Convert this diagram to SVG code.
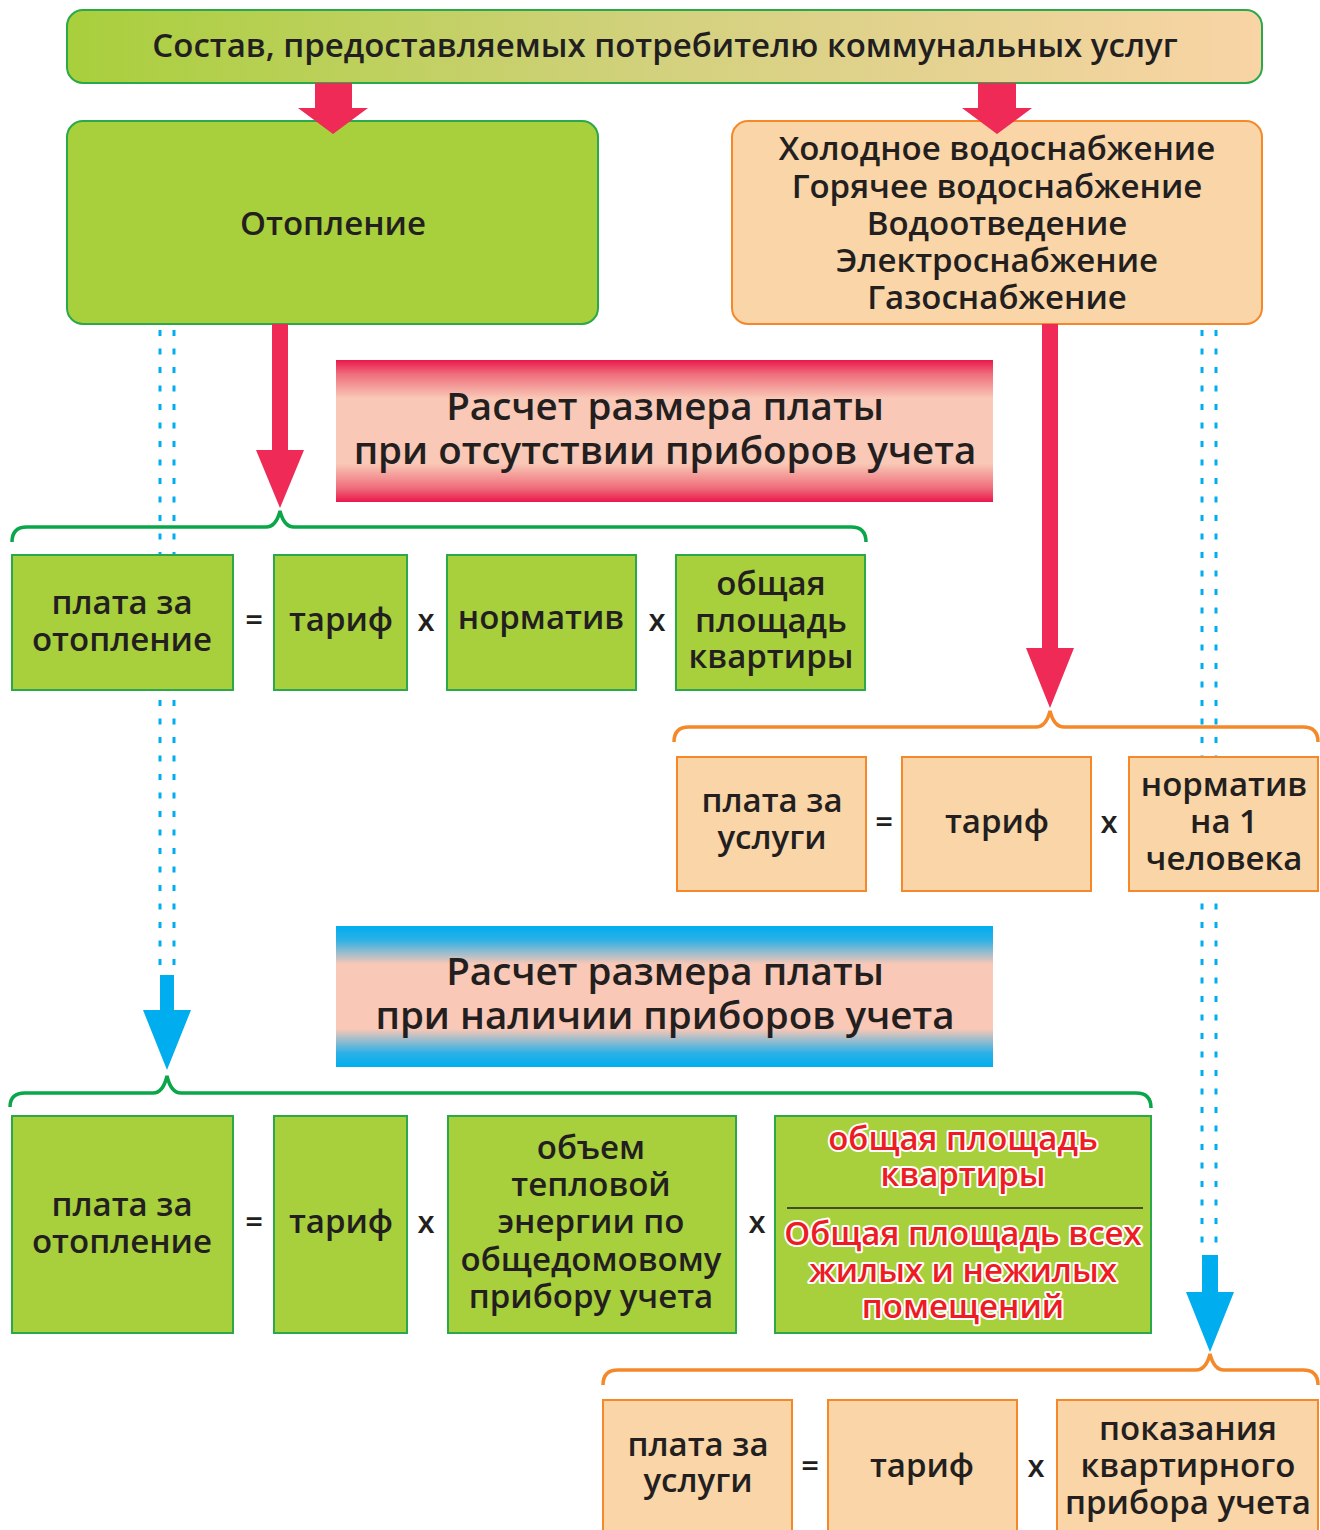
<svg xmlns="http://www.w3.org/2000/svg" width="1320" height="1530" viewBox="0 0 1320 1530">
<defs>
<linearGradient id="gTop" x1="0" y1="0" x2="1" y2="0">
<stop offset="0" stop-color="#a8cf3c"/><stop offset="0.5" stop-color="#d3d17e"/><stop offset="1" stop-color="#f9d4a6"/>
</linearGradient>
<linearGradient id="gRed" x1="0" y1="0" x2="0" y2="1">
<stop offset="0" stop-color="#e9174b"/><stop offset="0.1" stop-color="#ef6e7c"/><stop offset="0.27" stop-color="#f9c8b6"/><stop offset="0.73" stop-color="#f9c8b6"/><stop offset="0.9" stop-color="#ef6e7c"/><stop offset="1" stop-color="#e9174b"/>
</linearGradient>
<linearGradient id="gBlue" x1="0" y1="0" x2="0" y2="1">
<stop offset="0" stop-color="#00aeef"/><stop offset="0.1" stop-color="#2db0e6"/><stop offset="0.27" stop-color="#f9c8b6"/><stop offset="0.73" stop-color="#f9c8b6"/><stop offset="0.9" stop-color="#2db0e6"/><stop offset="1" stop-color="#00aeef"/>
</linearGradient>
</defs>
<style>
text{font-family:"Open Sans","Noto Sans","DejaVu Sans",sans-serif;fill:#231f20;text-anchor:middle;font-weight:600}
.t{font-size:33px}
.b{font-size:38.5px}
.op{font-size:31px}
.green{fill:#a8cf3c;stroke:#2aa84a;stroke-width:2}
.orange{fill:#f9d5a7;stroke:#f5892a;stroke-width:2}
.red{fill:#ef2a56}
.blue{fill:#00aeef}
.dots{stroke:#00aeef;stroke-width:3;stroke-dasharray:6 12.5;fill:none}
.braceG{fill:none;stroke:#0aa64a;stroke-width:3.5}
.braceO{fill:none;stroke:#f5892a;stroke-width:3.5}
.rt{fill:#ed1c24;stroke:#fff;stroke-width:4;paint-order:stroke;stroke-linejoin:round;font-size:33px}
</style>
<rect width="1320" height="1530" fill="#fff"/>
<g id="connectors-dotted">
<path class="dots" d="M160,330V975M174,330V975"/>
<path class="dots" d="M1202,330V1255M1216,330V1255"/>
</g>
<g id="top">
<rect x="67" y="10" width="1195" height="73" rx="16" fill="url(#gTop)" stroke="#2aa84a" stroke-width="2"/>
<text class="t" x="665" y="57">Состав, предоставляемых потребителю коммунальных услуг</text>
</g>
<g id="heating">
<rect class="green" x="67" y="121" width="531" height="203" rx="16"/>
<text class="t" x="333" y="235">Отопление</text>
</g>
<g id="services">
<rect class="orange" x="732" y="121" width="530" height="203" rx="16"/>
<text class="t" x="997" y="160">Холодное водоснабжение</text>
<text class="t" x="997" y="198">Горячее водоснабжение</text>
<text class="t" x="997" y="235">Водоотведение</text>
<text class="t" x="997" y="272">Электроснабжение</text>
<text class="t" x="997" y="309">Газоснабжение</text>
</g>
<g id="banner1">
<rect x="336" y="360" width="657" height="142" fill="url(#gRed)"/>
<text class="b" x="665" y="420">Расчет размера платы</text>
<text class="b" x="665" y="464">при отсутствии приборов учета</text>
</g>
<g id="row1">
<rect class="green" x="12" y="555" width="221" height="135"/>
<text class="t" x="122" y="614">плата за</text>
<text class="t" x="122" y="651">отопление</text>
<text class="op" x="254" y="631">=</text>
<rect class="green" x="274" y="555" width="133" height="135"/>
<text class="t" x="341" y="631">тариф</text>
<text class="op" x="426" y="631">x</text>
<rect class="green" x="447" y="555" width="189" height="135"/>
<text class="t" x="541" y="629">норматив</text>
<text class="op" x="657" y="631">x</text>
<rect class="green" x="676" y="555" width="189" height="135"/>
<text class="t" x="771" y="595">общая</text>
<text class="t" x="771" y="632">площадь</text>
<text class="t" x="771" y="668">квартиры</text>
</g>
<g id="row2">
<rect class="orange" x="677" y="757" width="189" height="134"/>
<text class="t" x="772" y="812">плата за</text>
<text class="t" x="772" y="849">услуги</text>
<text class="op" x="884" y="833">=</text>
<rect class="orange" x="902" y="757" width="189" height="134"/>
<text class="t" x="997" y="833">тариф</text>
<text class="op" x="1109" y="833">x</text>
<rect class="orange" x="1129" y="757" width="189" height="134"/>
<text class="t" x="1224" y="796">норматив</text>
<text class="t" x="1224" y="833">на 1</text>
<text class="t" x="1224" y="870">человека</text>
</g>
<g id="banner2">
<rect x="336" y="926" width="657" height="141" fill="url(#gBlue)"/>
<text class="b" x="665" y="985">Расчет размера платы</text>
<text class="b" x="665" y="1029">при наличии приборов учета</text>
</g>
<g id="row3">
<rect class="green" x="12" y="1116" width="221" height="217"/>
<text class="t" x="122" y="1216">плата за</text>
<text class="t" x="122" y="1253">отопление</text>
<text class="op" x="254" y="1233">=</text>
<rect class="green" x="274" y="1116" width="133" height="217"/>
<text class="t" x="341" y="1233">тариф</text>
<text class="op" x="426" y="1233">x</text>
<rect class="green" x="448" y="1116" width="288" height="217"/>
<text class="t" x="591" y="1159">объем</text>
<text class="t" x="591" y="1196">тепловой</text>
<text class="t" x="591" y="1233">энергии по</text>
<text class="t" x="591" y="1271">общедомовому</text>
<text class="t" x="591" y="1308">прибору учета</text>
<text class="op" x="757" y="1233">x</text>
<rect class="green" x="775" y="1116" width="376" height="217"/>
<text class="rt" x="963" y="1150">общая площадь</text>
<text class="rt" x="963" y="1186">квартиры</text>
<line x1="787" y1="1208" x2="1143" y2="1208" stroke="#231f20" stroke-width="1.5"/>
<text class="rt" x="963" y="1245">Общая площадь всех</text>
<text class="rt" x="963" y="1282">жилых и нежилых</text>
<text class="rt" x="963" y="1318">помещений</text>
</g>
<g id="row4">
<rect class="orange" x="603" y="1400" width="189" height="140"/>
<text class="t" x="698" y="1456">плата за</text>
<text class="t" x="698" y="1492">услуги</text>
<text class="op" x="810" y="1477">=</text>
<rect class="orange" x="828" y="1400" width="189" height="140"/>
<text class="t" x="922" y="1477">тариф</text>
<text class="op" x="1036" y="1477">x</text>
<rect class="orange" x="1057" y="1400" width="261" height="140"/>
<text class="t" x="1188" y="1440">показания</text>
<text class="t" x="1188" y="1477">квартирного</text>
<text class="t" x="1188" y="1514">прибора учета</text>
</g>
<g id="connectors">
<path class="red" d="M315,83H352V108H368L333,134L298,108H315Z"/>
<path class="red" d="M978,83H1016V108H1032L997,134L962,108H978Z"/>
<path class="red" d="M272,324H288V450H304L280,508L256,450H272Z"/>
<path class="red" d="M1042,324H1058V648H1074L1050,708L1026,648H1042Z"/>
<path class="blue" d="M160,975H174V1010H191L167,1070L143,1010H160Z"/>
<path class="blue" d="M1202,1255H1218V1292H1234L1210,1352L1186,1292H1202Z"/>
<path class="braceG" d="M12,542Q12,527 27,527H266Q276,527 280,511Q284,527 294,527H851Q866,527 866,542"/>
<path class="braceO" d="M674,742Q674,727 689,727H1036Q1046,727 1050,711Q1054,727 1064,727H1303Q1318,727 1318,742"/>
<path class="braceG" d="M10,1107Q10,1093 25,1093H153Q163,1093 167,1076Q171,1093 181,1093H1136Q1151,1093 1151,1108"/>
<path class="braceO" d="M603,1385Q603,1370 618,1370H1196Q1206,1370 1210,1354Q1214,1370 1224,1370H1303Q1318,1370 1318,1385"/>
</g>
</svg>
